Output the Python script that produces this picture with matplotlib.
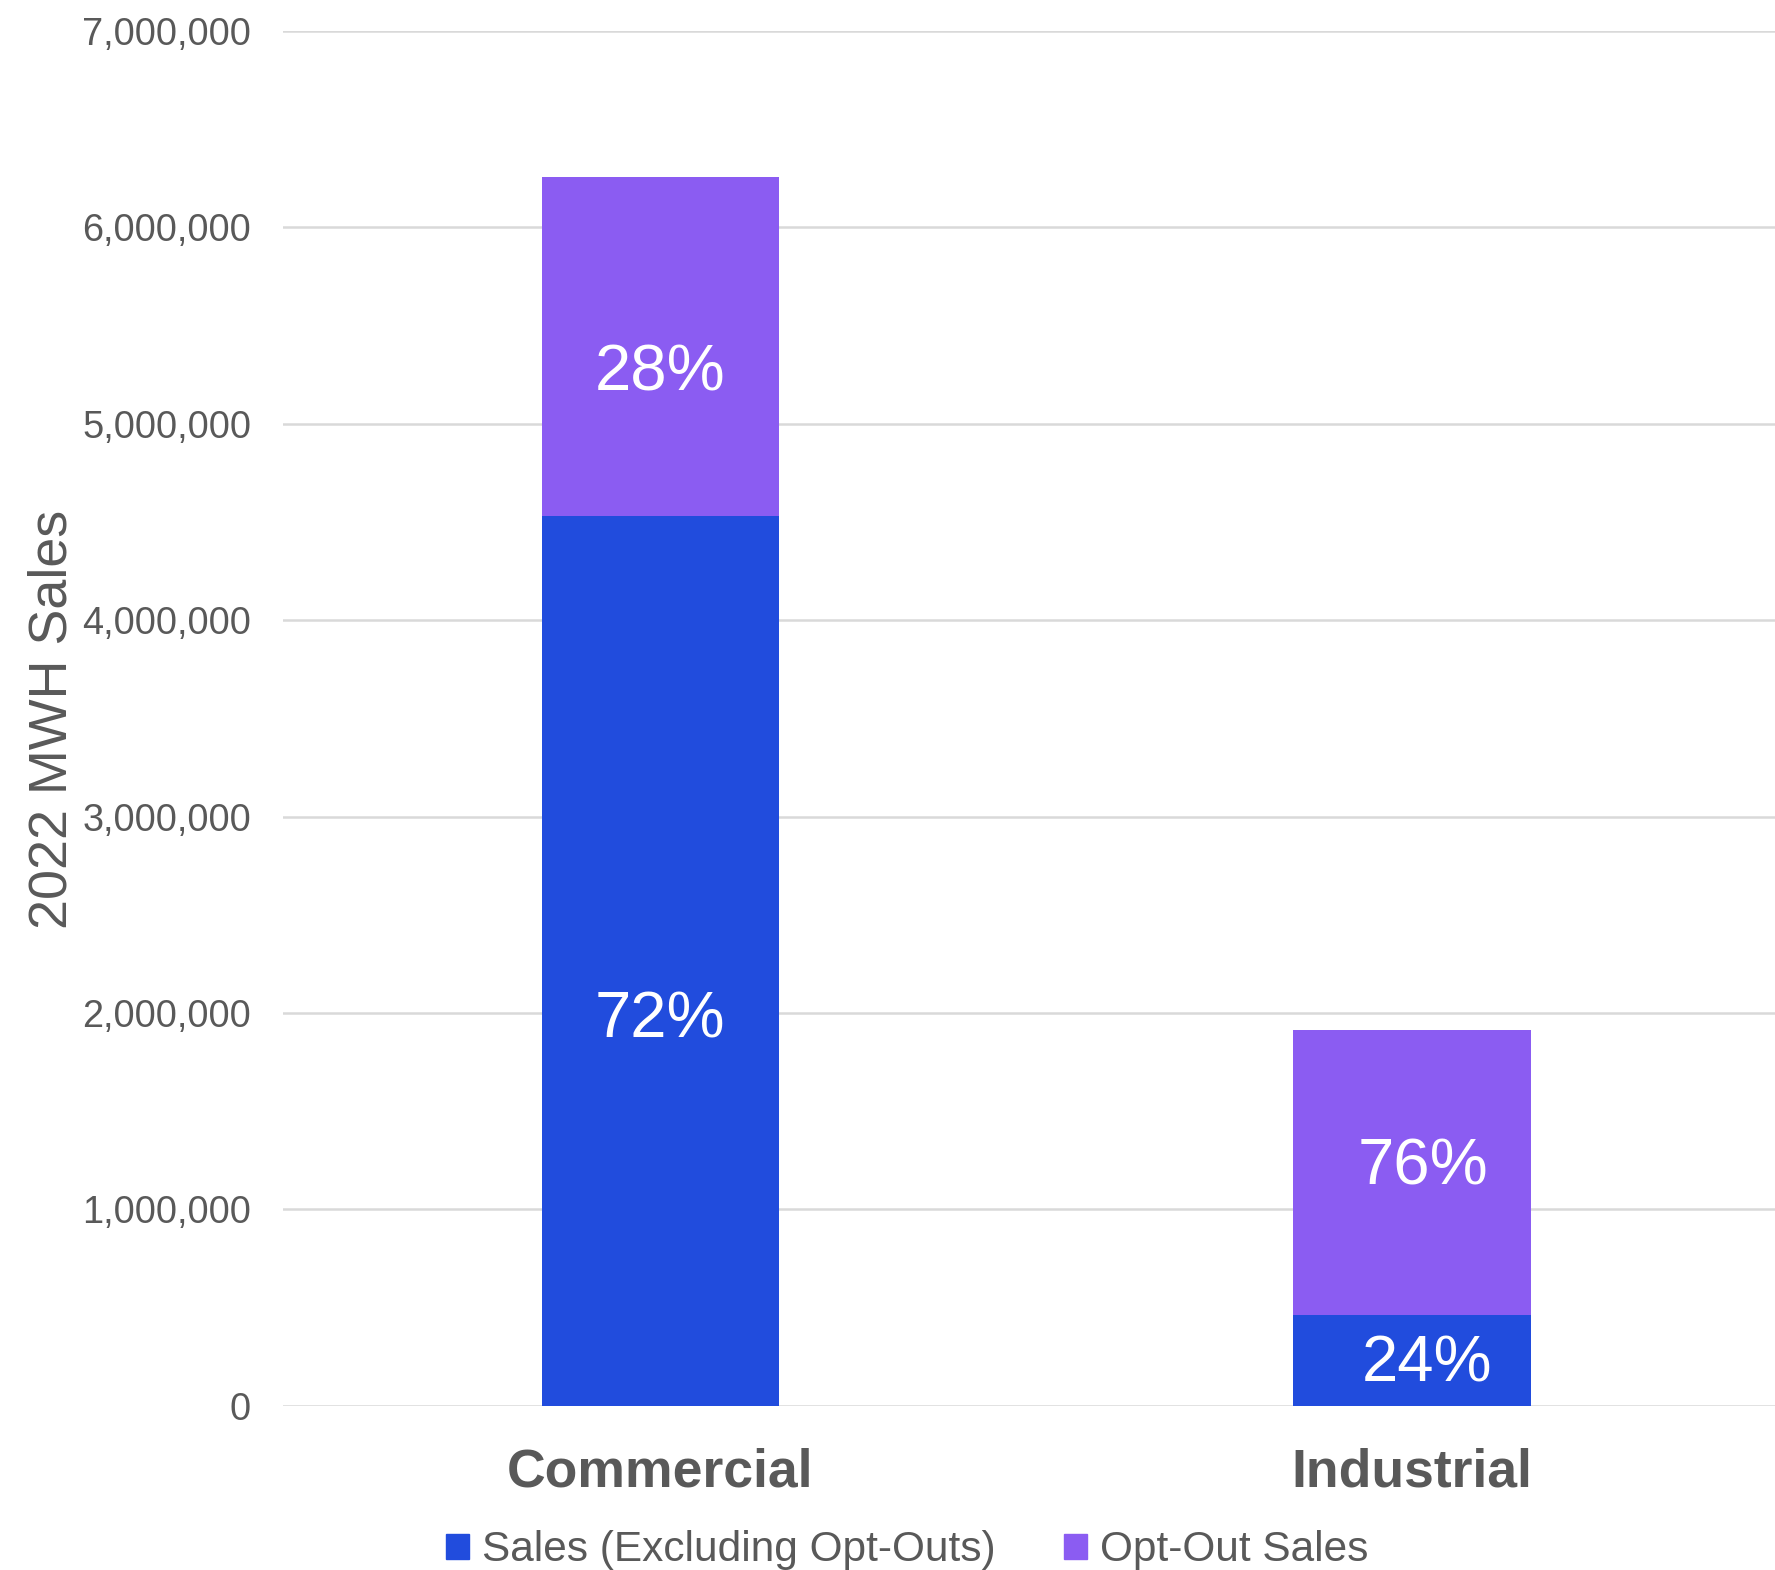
import matplotlib
matplotlib.use('Agg')
import matplotlib.pyplot as plt
from matplotlib.patches import Patch
from matplotlib.ticker import FuncFormatter

categories = ['Commercial', 'Industrial']
sales_excl = [4530000, 461000]
opt_out = [1726000, 1451000]
series_names = ['Sales (Excluding Opt-Outs)', 'Opt-Out Sales']
pct_excl = ['72%', '24%']
pct_opt = ['28%', '76%']

BLUE = '#214CDD'
PURPLE = '#8B5CF2'
TEXT = '#595959'

plt.rcParams['font.family'] = ['Liberation Sans', 'DejaVu Sans']

fig = plt.figure(figsize=(17.75, 15.7), dpi=100)
ax = fig.add_axes([0.1594, 0.1045, 0.8406, 0.876])

x = list(range(len(categories)))
width = 0.316
ax.bar(x, sales_excl, width, color=BLUE, zorder=3)
ax.bar(x, opt_out, width, bottom=sales_excl, color=PURPLE, zorder=3)

# percentage labels inside the segments (slightly off-center like the original)
excl_frac = [0.44, 0.53]
opt_frac = [0.44, 0.54]
excl_dx = [0.0, 0.02]
opt_dx = [0.0, 0.015]
for i in x:
    ax.text(i + excl_dx[i], sales_excl[i] * excl_frac[i], pct_excl[i],
            ha='center', va='center_baseline', color='white', fontsize=47, zorder=4)
    ax.text(i + opt_dx[i], sales_excl[i] + opt_out[i] * opt_frac[i], pct_opt[i],
            ha='center', va='center_baseline', color='white', fontsize=47, zorder=4)

ax.set_xlim(-0.502, 1.483)
ax.set_ylim(0, 7000000)
ax.set_yticks(range(0, 7000001, 1000000))
ax.yaxis.set_major_formatter(FuncFormatter(lambda v, p: f'{int(v):,}'))
ax.grid(True, axis='y', color='#d9d9d9', linewidth=1.8, zorder=0)
ax.set_axisbelow(True)
for s in ax.spines.values():
    s.set_visible(False)
ax.tick_params(axis='y', length=0, pad=23, labelsize=27.4, labelcolor=TEXT)
ax.tick_params(axis='x', length=0, pad=30, labelsize=38.5, labelcolor=TEXT)
ax.set_xticks(x)
ax.set_xticklabels(categories, fontweight='bold')

fig.text(0.0293, 0.542, '2022 MWH Sales', rotation=90, ha='center', va='center',
         fontsize=38.8, color=TEXT)

handles = [Patch(color=BLUE), Patch(color=PURPLE)]
fig.legend(handles, series_names, loc='center', bbox_to_anchor=(0.511, 0.0125),
           ncol=2, frameon=False, fontsize=30.5, labelcolor=TEXT,
           handlelength=0.55, handleheight=0.55, handletextpad=0.3, columnspacing=1.6)

fig.savefig('out.png', dpi=100)
